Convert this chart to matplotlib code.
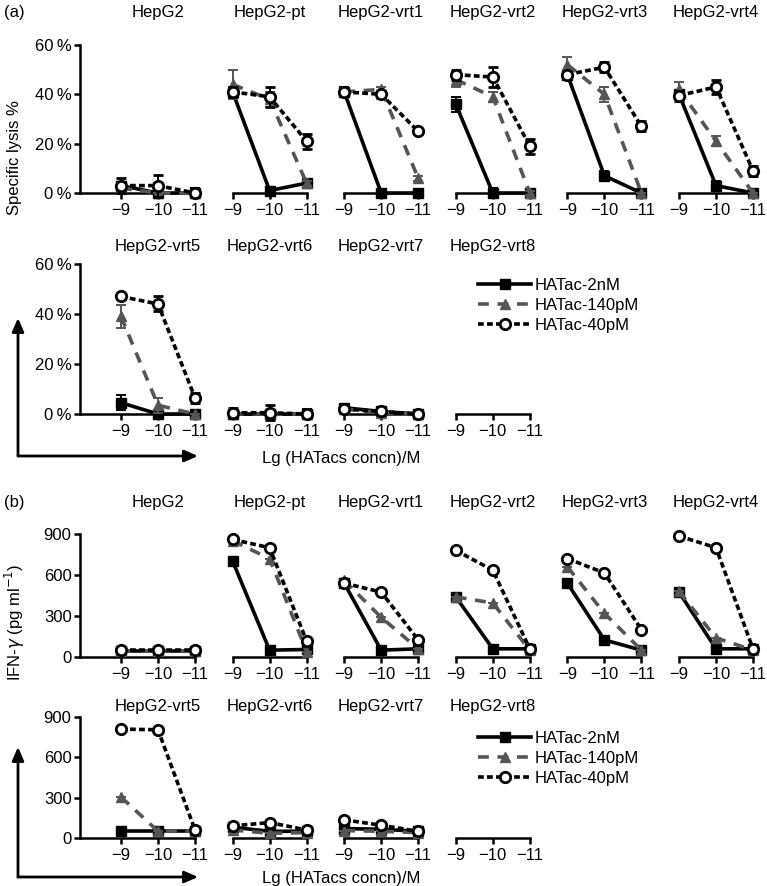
import numpy as np
import matplotlib
matplotlib.use("Agg")
import matplotlib.pyplot as plt
from matplotlib.patches import FancyArrowPatch
from matplotlib.lines import Line2D

plt.rcParams['font.family'] = ['Liberation Sans', 'DejaVu Sans']

# concentrations on the x axis (log10 M)
conc = [-9, -10, -11]
tick_labels = ['\u22129', '\u221210', '\u221211']

cell_lines = ['HepG2', 'HepG2-pt', 'HepG2-vrt1', 'HepG2-vrt2', 'HepG2-vrt3',
              'HepG2-vrt4', 'HepG2-vrt5', 'HepG2-vrt6', 'HepG2-vrt7', 'HepG2-vrt8']
series_names = ['HATac-2nM', 'HATac-140pM', 'HATac-40pM']
nan = np.nan

# (a) specific lysis %, one row per cell line
lysis_2nM = [[3, 0, 0], [41, 1, 4], [41, 0, 0], [36, 0, 0], [48, 7, 0],
             [40, 3, 0], [4.5, 0, 0], [0, 0, 0], [2.5, 1, 0], [nan, nan, nan]]
lysis_140pM = [[2, 0, 0], [44, 38, 4], [41, 42, 6], [46, 39, 0], [52, 40, 0],
               [42, 21, 0], [39, 3.5, 0], [0, 0, 0], [2, 0.5, 0], [nan, nan, nan]]
lysis_40pM = [[3, 3, 0], [41, 39, 21], [41, 40, 25], [48, 47, 19], [48, 51, 27],
              [39.5, 43, 9], [47, 44, 6.5], [0.5, 0.5, 0], [2, 1, 0], [nan, nan, nan]]
lysis_err_2nM = [[1, 0, 2], [2, 1, 1], [2, 0, 0], [3, 2, 1], [1, 2, 0],
                 [1, 2, 0], [3, 0, 0], [0, 0, 2], [1, 0, 0], [nan, nan, nan]]
lysis_err_140pM = [[2, 0, 0], [6, 3, 1], [1.5, 1, 1], [3, 2, 1], [3, 3, 0],
                   [3, 2, 0], [4.5, 3, 0], [0, 0, 0], [1, 0, 0], [nan, nan, nan]]
lysis_err_40pM = [[3, 4.5, 0], [2, 4, 3], [1.5, 1.5, 1], [2, 4, 3], [1, 2, 2],
                  [2, 3, 2], [1, 3, 2], [2, 3, 0], [1, 1, 0], [nan, nan, nan]]

# (b) IFN-gamma pg/ml
ifn_2nM = [[45, 45, 45], [702, 50, 55], [540, 50, 60], [440, 60, 60], [540, 125, 50],
           [475, 60, 60], [52, 52, 52], [80, 50, 50], [70, 65, 50], [nan, nan, nan]]
ifn_140pM = [[45, 45, 45], [850, 720, 40], [560, 290, 60], [440, 395, 50], [660, 320, 50],
             [480, 140, 50], [305, 50, 50], [60, 35, 40], [55, 50, 40], [nan, nan, nan]]
ifn_40pM = [[50, 50, 50], [860, 800, 117], [540, 475, 125], [780, 635, 60], [720, 615, 200],
            [885, 800, 60], [810, 805, 60], [90, 115, 60], [135, 95, 50], [nan, nan, nan]]

W, H = 767, 886
FS = 12
fig = plt.figure(figsize=(W / 100, H / 100), dpi=100)

col_x9 = [121 + i * 111.6 for i in range(6)]   # pixel of the -9 tick per column
unit = 37.0                                     # pixels per log unit

LW = 2.6
DASH_140 = (0, (3.0, 2.4))
DASH_40 = (0, (1.6, 0.9))


def px2fig(x, y):
    return x / W, 1 - y / H


def make_axes(col, y0, ytop, ymax, first):
    xl = -7.89 if first else -8.85
    xr = -11.15
    left = col_x9[col] - (xl + 9) * unit
    right = col_x9[col] + (-9 - xr) * unit
    fl, fb = px2fig(left, y0)
    ax = fig.add_axes([fl, fb, (right - left) / W, (y0 - ytop) / H])
    ax.set_xlim(xl, xr)
    ax.set_ylim(0, ymax)
    ax.patch.set_visible(False)
    for s in ['top', 'right']:
        ax.spines[s].set_visible(False)
    ax.spines['bottom'].set_linewidth(1.8)
    ax.spines['bottom'].set_bounds(xl if first else -9, -11)
    ax.set_xticks(conc)
    ax.set_xticklabels(tick_labels, fontsize=FS)
    ax.tick_params(axis='x', direction='out', length=4, width=1.8, pad=3)
    if first:
        ax.spines['left'].set_linewidth(1.8)
        ax.tick_params(axis='y', direction='out', length=4, width=1.8, labelsize=FS, pad=2)
    else:
        ax.spines['left'].set_visible(False)
        ax.set_yticks([])
    return ax


def draw_series(ax, a, b, c, ea=None, eb=None, ec=None):
    kw = dict(clip_on=False, capsize=3.5, elinewidth=1.4, capthick=1.4)
    if ea is None:
        ea = eb = ec = [0, 0, 0]
    ax.errorbar(conc, a, yerr=ea, color='black', lw=LW, marker='s', ms=6.5,
                ecolor='black', zorder=3, **kw)
    ax.errorbar(conc, b, yerr=eb, color='#555555', lw=LW, ls=DASH_140,
                marker='^', ms=7.5, ecolor='#555555', zorder=4, **kw)
    ax.errorbar(conc, c, yerr=ec, color='black', lw=LW, ls=DASH_40,
                marker='o', ms=7.5, mfc='white', mec='black', mew=2.0,
                ecolor='black', zorder=5, **kw)


rows = [
    # (cell indexes, y0, ytop, ymax, title y, kind)
    (range(0, 6), 193, 45, 60, 12, 'a'),
    (range(6, 10), 414, 264, 60, 247, 'a'),
    (range(0, 6), 657, 534, 900, 502, 'b'),
    (range(6, 10), 838, 717, 900, 707, 'b'),
]

for idxs, y0, ytop, ymax, ty, kind in rows:
    for col, i in enumerate(idxs):
        ax = make_axes(col, y0, ytop, ymax, col == 0)
        if kind == 'a':
            draw_series(ax, lysis_2nM[i], lysis_140pM[i], lysis_40pM[i],
                        lysis_err_2nM[i], lysis_err_140pM[i], lysis_err_40pM[i])
            if col == 0:
                ax.set_yticks([0, 20, 40, 60])
                ax.set_yticklabels(['0\u2009%', '20\u2009%', '40\u2009%', '60\u2009%'])
        else:
            draw_series(ax, ifn_2nM[i], ifn_140pM[i], ifn_40pM[i])
            if col == 0:
                ax.set_yticks([0, 300, 600, 900])
        tx, tyf = px2fig(col_x9[col] + unit, ty)
        fig.text(tx, tyf, cell_lines[i], ha='center', va='center', fontsize=FS)

# panel letters and axis titles
fig.text(*px2fig(4, 12), '(a)', ha='left', va='center', fontsize=FS)
fig.text(*px2fig(4, 502), '(b)', ha='left', va='center', fontsize=FS)
fig.text(*px2fig(15, 158), 'Specific lysis %', rotation=90, ha='center', va='center', fontsize=FS)
fig.text(*px2fig(15, 622), 'IFN-$\\gamma$ (pg ml$^{-1}$)', rotation=90, ha='center', va='center', fontsize=FS)
fig.text(*px2fig(341, 458), 'Lg (HATacs concn)/M', ha='center', va='center', fontsize=FS)
fig.text(*px2fig(341, 878), 'Lg (HATacs concn)/M', ha='center', va='center', fontsize=FS)

# corner arrows
for ycorner, ytip in [(456, 318), (877, 747)]:
    for end in [(198, ycorner), (18, ytip)]:
        arr = FancyArrowPatch(px2fig(18, ycorner), px2fig(*end), transform=fig.transFigure,
                              arrowstyle='-|>,head_length=8,head_width=3.5', lw=2.0,
                              color='black', shrinkA=0, shrinkB=0)
        fig.add_artist(arr)

# legends
handles = [
    Line2D([], [], color='black', lw=LW, marker='s', ms=6.5),
    Line2D([], [], color='#555555', lw=LW, ls=DASH_140, marker='^', ms=7.5),
    Line2D([], [], color='black', lw=LW, ls=DASH_40, marker='o', ms=7.5,
           mfc='white', mec='black', mew=2.0),
]
for ytop in [278, 731]:
    fig.legend(handles, series_names, loc='upper left', bbox_to_anchor=px2fig(478, ytop),
               frameon=False, fontsize=FS, handlelength=3.2, handletextpad=0.2,
               labelspacing=0.3, borderpad=0, borderaxespad=0)

fig.savefig('out.png', dpi=100)
